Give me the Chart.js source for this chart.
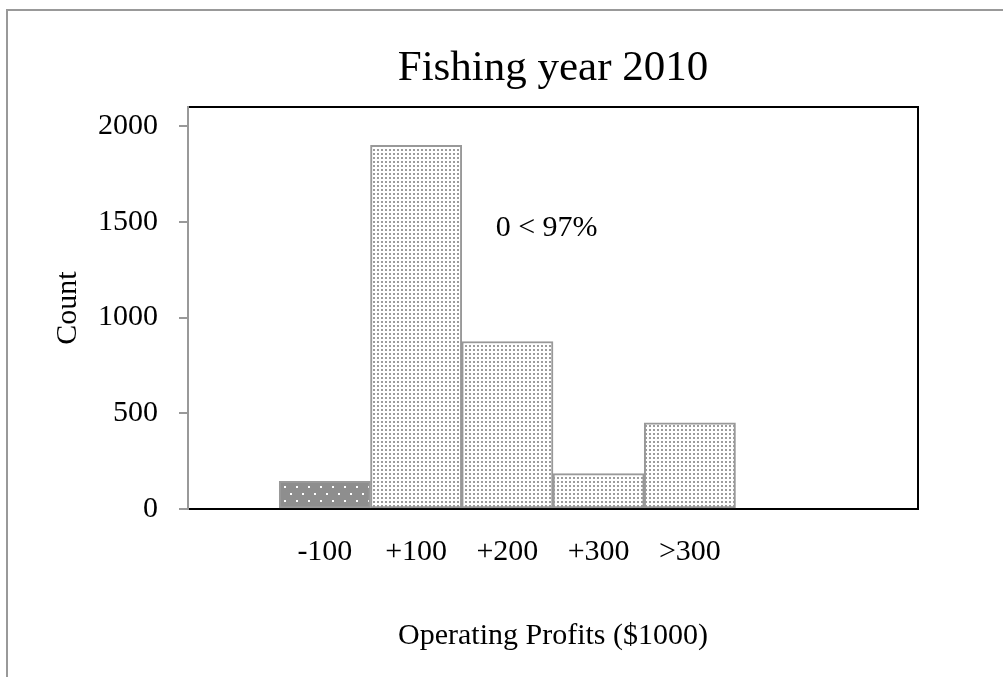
<!DOCTYPE html>
<html>
<head>
<meta charset="utf-8">
<title>Fishing year 2010</title>
<script src="https://cdn.jsdelivr.net/npm/chart.js@4.4.1/dist/chart.umd.min.js"></script>
<style>
  html, body { margin: 0; padding: 0; background: #fff; }
  canvas { display: block; }
</style>
</head>
<body>
<canvas id="profits" width="1003" height="677"></canvas>
<script>
// profit bins; the outer empty slots keep the bars where the histogram puts them
const categories = ['', '-100', '+100', '+200', '+300', '>300', '', ''];
const counts = [null, 145, 1900, 875, 185, 450, null, null];
const yTicks = [0, 500, 1000, 1500, 2000];
const chartTitle = 'Fishing year 2010';
const shareNote = '0 < 97%';

const SERIF = "'Liberation Serif', 'Times New Roman', serif";

// dotted fills for the bars
function makePattern(w, h, bg, dot, spots) {
  const c = document.createElement('canvas');
  c.width = w;
  c.height = h;
  const g = c.getContext('2d');
  g.fillStyle = bg;
  g.fillRect(0, 0, w, h);
  g.fillStyle = dot;
  spots.forEach(([x, y]) => g.fillRect(x, y, 2, 2));
  return g.createPattern(c, 'repeat');
}

const ctx = document.getElementById('profits').getContext('2d');
const lightDots = makePattern(4, 4, '#ffffff', '#9c9c9c', [[1, 1]]);
const darkDots = makePattern(12, 14, '#8e8e8e', '#ffffff', [[2, 3], [8, 10]]);

const frame = {
  id: 'frame',
  beforeDraw(chart) {
    const c = chart.ctx;
    c.save();
    c.fillStyle = '#fff';
    c.fillRect(0, 0, chart.width, chart.height);
    // outer gray border (top and left)
    c.strokeStyle = '#999';
    c.lineWidth = 2;
    c.beginPath();
    c.moveTo(7, chart.height);
    c.lineTo(7, 10);
    c.lineTo(chart.width, 10);
    c.stroke();
    c.restore();
  },
  afterDraw(chart) {
    const { left, right, top, bottom } = chart.chartArea;
    const c = chart.ctx;
    c.save();
    c.strokeStyle = '#000';
    c.lineWidth = 2;
    c.beginPath();
    c.moveTo(left + 1, top);
    c.lineTo(right, top);
    c.lineTo(right, bottom);
    c.stroke();

    c.fillStyle = '#000';
    c.textAlign = 'center';
    // title sits over the plot box, not the whole canvas
    c.font = '43px ' + SERIF;
    c.textBaseline = 'alphabetic';
    c.fillText(chartTitle, (left + right) / 2, top - 27);

    // share label inside the plot
    const x = chart.scales.x.getPixelForValue(3.43);
    const y = chart.scales.y.getPixelForValue(1465);
    c.font = '30px ' + SERIF;
    c.textBaseline = 'middle';
    c.fillText(shareNote, x, y);
    c.restore();
  }
};

new Chart(ctx, {
  type: 'bar',
  data: {
    labels: categories,
    datasets: [{
      data: counts,
      backgroundColor: counts.map((v, i) => (i === 1 ? darkDots : lightDots)),
      borderColor: '#999',
      borderWidth: 2,
      borderSkipped: false,
      categoryPercentage: 1,
      barPercentage: 1
    }]
  },
  options: {
    responsive: false,
    animation: false,
    layout: { padding: { top: 107, left: 0, right: 85, bottom: 0 } },
    plugins: {
      legend: { display: false },
      tooltip: { enabled: false },
      title: { display: false }
    },
    scales: {
      x: {
        grid: { display: false },
        border: { display: true, color: '#000', width: 2 },
        ticks: { color: '#000', font: { family: SERIF, size: 30 }, padding: 17, maxRotation: 0 },
        title: {
          display: true,
          text: 'Operating Profits ($1000)',
          color: '#000',
          font: { family: SERIF, size: 30 },
          padding: { top: 0, bottom: 23 }
        },
        afterFit(scale) { scale.height = 168; }
      },
      y: {
        min: 0,
        max: 2100,
        grid: { drawOnChartArea: false, drawTicks: true, tickLength: 9, color: '#999', lineWidth: 2 },
        border: { display: true, color: '#999', width: 2 },
        ticks: {
          color: '#000',
          font: { family: SERIF, size: 30 },
          padding: 21,
          callback: v => String(v)
        },
        afterBuildTicks(scale) {
          scale.ticks = yTicks.map(v => ({ value: v }));
        },
        title: {
          display: true,
          text: 'Count',
          color: '#000',
          font: { family: SERIF, size: 30 },
          padding: { top: 50, bottom: 0 }
        },
        afterFit(scale) { scale.width = 188; }
      }
    }
  },
  plugins: [frame]
});
</script>
</body>
</html>
